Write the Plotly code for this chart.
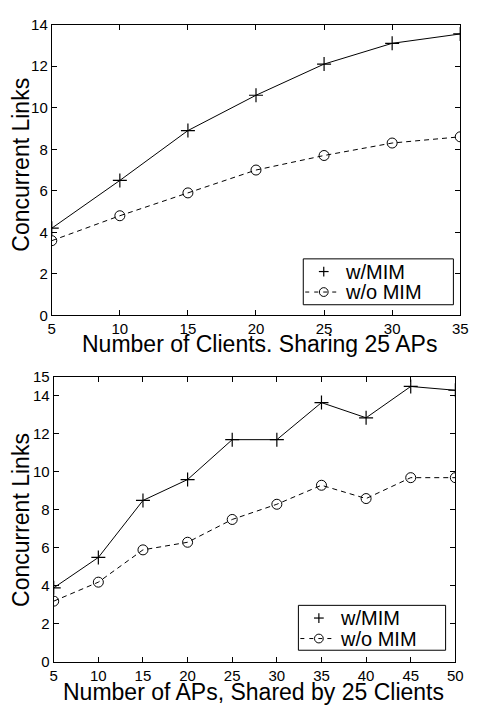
import plotly.graph_objects as go

# Top chart data
clients = [5, 10, 15, 20, 25, 30, 35]
top_mim = [4.2, 6.5, 8.9, 10.6, 12.1, 13.1, 13.55]
top_nomim = [3.6, 4.8, 5.9, 7.0, 7.7, 8.3, 8.6]

# Bottom chart data
aps = [5, 10, 15, 20, 25, 30, 35, 40, 45, 50]
bot_mim = [3.9, 5.5, 8.5, 9.6, 11.7, 11.7, 13.65, 12.85, 14.5, 14.3]
bot_nomim = [3.2, 4.2, 5.9, 6.3, 7.5, 8.3, 9.3, 8.6, 9.7, 9.7]

series_names = ["w/MIM", "w/o MIM"]
top_xtitle = "Number of Clients. Sharing 25 APs"
bot_xtitle = "Number of APs, Shared by 25 Clients"
ytitle = "Concurrent Links"

FONT = "Liberation Sans, Arial, Helvetica, sans-serif"
BLK = "black"
W, H = 477.0, 709.0
DASH = "5px,4px"

fig = go.Figure()


def add_series(x, y_mim, y_nomim, xa, ya):
    fig.add_trace(go.Scatter(x=x, y=y_mim, mode="lines+markers", xaxis=xa, yaxis=ya,
                             name=series_names[0], showlegend=False,
                             line=dict(color=BLK, width=1),
                             marker=dict(symbol="cross-thin", size=10, line=dict(color=BLK, width=1.2))))
    fig.add_trace(go.Scatter(x=x, y=y_nomim, mode="lines+markers", xaxis=xa, yaxis=ya,
                             name=series_names[1], showlegend=False,
                             line=dict(color=BLK, width=1, dash=DASH),
                             marker=dict(symbol="circle-open", size=10, color=BLK,
                                         line=dict(color=BLK, width=1))))


add_series(clients, top_mim, top_nomim, "x", "y")
add_series(aps, bot_mim, bot_nomim, "x2", "y2")

axis_common = dict(showgrid=False, zeroline=False, showline=True, linecolor=BLK, linewidth=1,
                   mirror="ticks", ticks="inside", ticklen=5, tickcolor=BLK,
                   tickfont=dict(family=FONT, size=15, color=BLK))

shapes = []
annotations = []


def px(xp):
    return xp / W


def py(yp):
    return 1 - yp / H


def add_legend(left, top, right, bottom, row1, row2, text_x):
    # legend frame
    shapes.append(dict(type="rect", xref="paper", yref="paper",
                       x0=px(left), x1=px(right), y0=py(bottom), y1=py(top),
                       line=dict(color=BLK, width=1), fillcolor="white", layer="above"))
    sx = left + 21  # symbol centre
    # "+" symbol
    shapes.append(dict(type="line", xref="paper", yref="paper",
                       x0=px(sx - 5), x1=px(sx + 5), y0=py(row1), y1=py(row1),
                       line=dict(color=BLK, width=1.2), layer="above"))
    shapes.append(dict(type="line", xref="paper", yref="paper",
                       x0=px(sx), x1=px(sx), y0=py(row1 - 5), y1=py(row1 + 5),
                       line=dict(color=BLK, width=1.2), layer="above"))
    # dashed line with circle
    shapes.append(dict(type="line", xref="paper", yref="paper",
                       x0=px(left + 2), x1=px(sx + 14), y0=py(row2), y1=py(row2),
                       line=dict(color=BLK, width=1, dash="4px,5px"), layer="above"))
    shapes.append(dict(type="circle", xref="paper", yref="paper",
                       x0=px(sx - 4.5), x1=px(sx + 4.5), y0=py(row2 + 4.5), y1=py(row2 - 4.5),
                       line=dict(color=BLK, width=1), layer="above"))
    for name, ry in zip(series_names, [row1, row2]):
        annotations.append(dict(text=name, xref="paper", yref="paper", x=px(text_x), y=py(ry),
                                xanchor="left", yanchor="middle", showarrow=False,
                                font=dict(family=FONT, size=20, color=BLK)))


add_legend(307, 256, 461, 303, 269, 290, 348)
add_legend(302, 611, 453, 657, 624, 645, 343)

# axis titles
annotations.append(dict(text=top_xtitle, xref="paper", yref="paper", x=px(262), y=py(343),
                        xanchor="center", yanchor="middle", showarrow=False,
                        font=dict(family=FONT, size=23, color=BLK)))
annotations.append(dict(text=bot_xtitle, xref="paper", yref="paper", x=px(256), y=py(700),
                        xanchor="center", yanchor="middle", showarrow=False,
                        font=dict(family=FONT, size=23, color=BLK)))
annotations.append(dict(text=ytitle, xref="paper", yref="paper", x=px(18), y=py(160),
                        xanchor="center", yanchor="middle", showarrow=False, textangle=-90,
                        font=dict(family=FONT, size=23, color=BLK)))
annotations.append(dict(text=ytitle, xref="paper", yref="paper", x=px(18), y=py(524),
                        xanchor="center", yanchor="middle", showarrow=False, textangle=-90,
                        font=dict(family=FONT, size=23, color=BLK)))

fig.update_layout(
    width=477, height=709,
    margin=dict(l=0, r=0, t=0, b=0),
    paper_bgcolor="white", plot_bgcolor="white",
    font=dict(family=FONT, color=BLK),
    showlegend=False,
    xaxis=dict(domain=[px(49), px(468)], range=[5, 35], tickvals=clients, anchor="y", **axis_common),
    yaxis=dict(domain=[py(314), py(16)], range=[0, 14], tickvals=[0, 2, 4, 6, 8, 10, 12, 14],
               anchor="x", **axis_common),
    xaxis2=dict(domain=[px(51), px(463)], range=[5, 50], tickvals=aps, anchor="y2", **axis_common),
    yaxis2=dict(domain=[py(669), py(377)], range=[0, 15], tickvals=[0, 2, 4, 6, 8, 10, 12, 14, 15],
                anchor="x2", **axis_common),
    shapes=shapes,
    annotations=annotations,
)

fig.write_html("out.html")
